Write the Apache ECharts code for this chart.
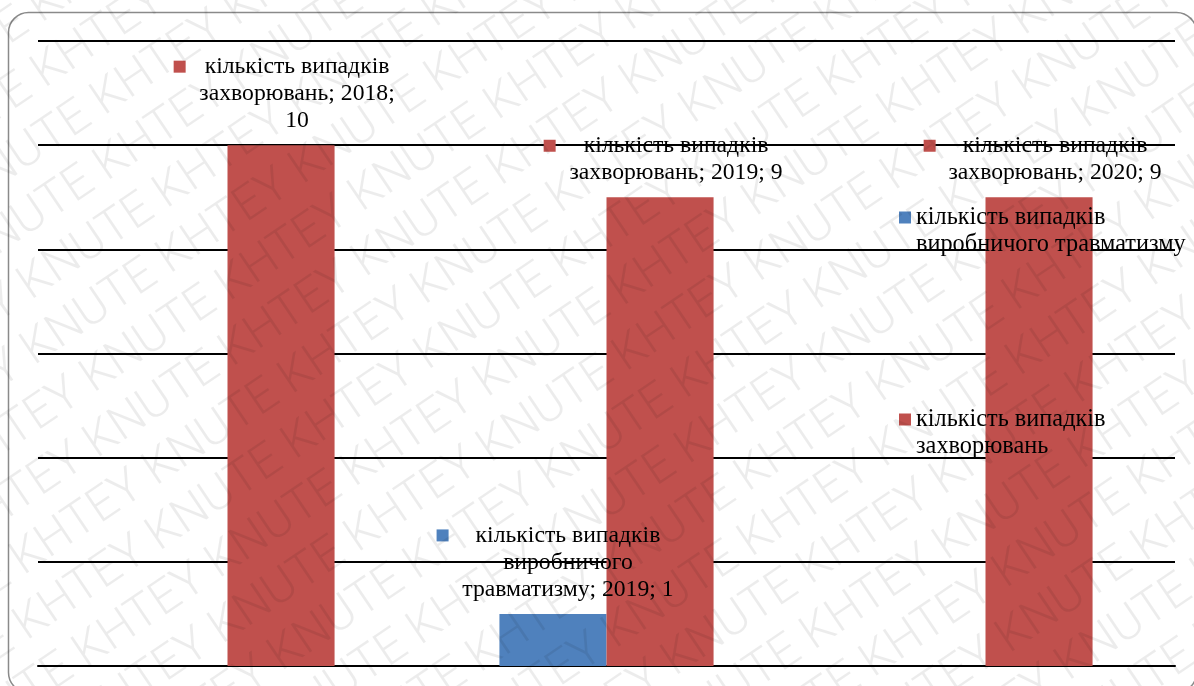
<!DOCTYPE html>
<html>
<head>
<meta charset="utf-8">
<script src="https://cdn.jsdelivr.net/npm/echarts@6/dist/echarts.min.js"></script>
<style>
html,body{margin:0;padding:0;background:#fff;}
#chart{width:1194px;height:686px;}
</style>
</head>
<body>
<div id="chart"></div>
<script>
// ---- data ----
const categories = ['2018', '2019', '2020'];
const injuryName = 'кількість випадків виробничого травматизму';
const diseaseName = 'кількість випадків захворювань';
const injuryValues = [null, 1, null];
const diseaseValues = [10, 9, 9];
const yMin = 0, yMax = 12, yInterval = 2;
const watermarkWord = 'KNUTE KHTEY';

// ---- style ----
const BLUE = '#4F81BD', RED = '#C0504D';
const SERIF = '"Liberation Serif", "Times New Roman", serif';
const LABEL_FS = 23.7, LEGEND_FS = 24.3;
const labelShift = { injury: [0, 15, 0], disease: [16, 16, 16] };
const keyGap = { injury: [27, 27, 27], disease: [19, 28, 27] };

function wrap(text, max) {
  const words = text.split(' ');
  const lines = [];
  let cur = '';
  words.forEach(w => {
    if (!cur) cur = w;
    else if ((cur + ' ' + w).length <= max) cur += ' ' + w;
    else { lines.push(cur); cur = w; }
  });
  if (cur) lines.push(cur);
  return lines;
}

function labelFormatter(p) {
  const lines = wrap(p.seriesName + '; ' + p.name + '; ' + p.value, 20);
  return lines.map((l, i) => i === 0 ? '{k|}{g|}{t|' + l + '}{s|}' : '{t|' + l + '}').join('\n');
}

function makeData(values, color, key) {
  return values.map((v, i) => {
    if (v == null) return null;
    const gap = keyGap[key][i];
    return {
      value: v,
      label: {
        offset: [labelShift[key][i], 0],
        rich: {
          k: { width: 12, height: 12, backgroundColor: color, verticalAlign: 'middle' },
          g: { width: gap, height: 12 },
          s: { width: 12 + gap, height: 12 },
          t: { fontFamily: SERIF, fontSize: LABEL_FS, lineHeight: 27, color: '#000' }
        }
      }
    };
  });
}

const labelBase = {
  show: true,
  position: 'top',
  distance: 11,
  align: 'center',
  formatter: labelFormatter,
  fontFamily: SERIF, fontSize: LABEL_FS, lineHeight: 27, color: '#000'
};

const wmLine = Array(9).fill(watermarkWord).join(' ');
const wmLines = [];
for (let i = 0; i < 28; i++) wmLines.push((i % 2 ? 'EY ' : '') + wmLine);

const legendText = { fontFamily: SERIF, fontSize: LEGEND_FS, lineHeight: 27, color: '#000' };
// leading empty line keeps the key level with the first text line
const legendFormatter = n => '\n' + wrap(n, 24).join('\n');

const chart = echarts.init(document.getElementById('chart'), null, { renderer: 'canvas' });
chart.setOption({
  animation: false,
  backgroundColor: '#fff',
  grid: { left: 38, right: 19, top: 41, bottom: 20, containLabel: false },
  xAxis: {
    type: 'category',
    data: categories,
    axisLine: { show: true, lineStyle: { color: '#000', width: 2 } },
    axisTick: { show: false },
    axisLabel: { show: false },
    splitLine: { show: false }
  },
  yAxis: {
    type: 'value',
    min: yMin, max: yMax, interval: yInterval,
    axisLine: { show: false },
    axisTick: { show: false },
    axisLabel: { show: false },
    splitLine: { show: true, lineStyle: { color: '#000', width: 2 } }
  },
  legend: [
    {
      data: [injuryName], orient: 'vertical', left: 899, top: 177, padding: 0,
      itemWidth: 12, itemHeight: 12, icon: 'rect', itemGap: 0,
      formatter: legendFormatter, textStyle: legendText
    },
    {
      data: [diseaseName], orient: 'vertical', left: 899, top: 379, padding: 0,
      itemWidth: 12, itemHeight: 12, icon: 'rect', itemGap: 0,
      formatter: legendFormatter, textStyle: legendText
    }
  ],
  series: [
    {
      name: injuryName, type: 'bar',
      data: makeData(injuryValues, BLUE, 'injury'),
      itemStyle: { color: BLUE },
      barGap: '0%', barCategoryGap: '43.5%',
      label: labelBase
    },
    {
      name: diseaseName, type: 'bar',
      data: makeData(diseaseValues, RED, 'disease'),
      itemStyle: { color: RED },
      barGap: '0%', barCategoryGap: '43.5%',
      label: labelBase
    }
  ],
  graphic: [
    {
      type: 'rect', z: 0, silent: true,
      shape: { x: 8.5, y: 12.5, width: 1188, height: 680, r: 20 },
      style: { fill: 'none', stroke: '#8a8a8a', lineWidth: 1.5 }
    },
    {
      type: 'text', z: 200, silent: true,
      x: 597, y: 343, rotation: 34 * Math.PI / 180,
      style: {
        text: wmLines.join('\n'),
        font: '300 48px Roboto, "Liberation Sans", sans-serif',
        fill: 'rgba(0,0,0,0.075)',
        align: 'center', verticalAlign: 'middle',
        lineHeight: 56
      }
    }
  ]
});
</script>
</body>
</html>
